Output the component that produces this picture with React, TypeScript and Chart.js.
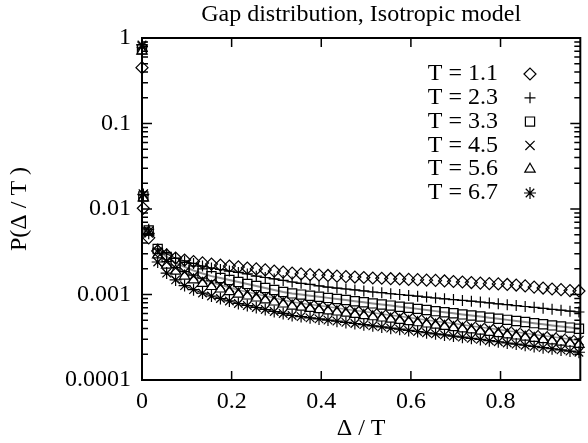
import React, { useEffect, useRef } from 'react';
import { Chart, registerables } from 'chart.js';
import { drawPoint } from 'chart.js/helpers';

Chart.register(...registerables);

const titleText = 'Gap distribution, Isotropic model';
const xTitle = 'Δ / T';
const yTitle = 'P(Δ / T )';
const seriesLabels = ['T = 1.1', 'T = 2.3', 'T = 3.3', 'T = 4.5', 'T = 5.6', 'T = 6.7'];

const xValues = [
  0, 0.003, 0.015,
  0.035, 0.055, 0.075, 0.095, 0.115, 0.135, 0.155, 0.175, 0.195, 0.215,
  0.235, 0.255, 0.275, 0.295, 0.315, 0.335, 0.355, 0.375, 0.395, 0.415,
  0.435, 0.455, 0.475, 0.495, 0.515, 0.535, 0.555, 0.575, 0.595, 0.615,
  0.635, 0.655, 0.675, 0.695, 0.715, 0.735, 0.755, 0.775, 0.795, 0.815,
  0.835, 0.855, 0.875, 0.895, 0.915, 0.935, 0.955, 0.975,
];

const t11 = [
  0.45, 0.0102, 0.0046,
  0.00323, 0.0029, 0.00267, 0.00253, 0.00243, 0.00234, 0.00227, 0.00221, 0.00215, 0.0021,
  0.00204, 0.00199, 0.00194, 0.00188, 0.00183, 0.00178, 0.00174, 0.00171, 0.00169, 0.00167,
  0.00164, 0.00162, 0.0016, 0.00158, 0.00156, 0.00155, 0.00153, 0.00152, 0.0015, 0.00149,
  0.00147, 0.00146, 0.00144, 0.00142, 0.0014, 0.00138, 0.00136, 0.00134, 0.00133, 0.00131,
  0.00129, 0.00126, 0.00122, 0.00119, 0.00116, 0.00114, 0.00111, 0.0011,
];
const t23 = [
  0.78, 0.0145, 0.0058,
  0.00341, 0.00298, 0.00267, 0.00247, 0.00231, 0.00215, 0.00204, 0.00196, 0.00188, 0.00181,
  0.00174, 0.00164, 0.00158, 0.00152, 0.00146, 0.0014, 0.00135, 0.00131, 0.00126, 0.00122,
  0.00119, 0.00116, 0.00113, 0.0011, 0.00107, 0.00105, 0.00102, 0.001, 0.000976, 0.000955,
  0.000932, 0.00091, 0.000891, 0.000872, 0.000853, 0.000835, 0.000817, 0.000798, 0.000778, 0.00076,
  0.000742, 0.000724, 0.000707, 0.00069, 0.000671, 0.000655, 0.000639, 0.000624,
];
const t33 = [
  0.74, 0.014, 0.0056,
  0.00341, 0.00275, 0.00234, 0.0021, 0.00191, 0.00176, 0.00164, 0.00156, 0.00148, 0.0014,
  0.00133, 0.00126, 0.00119, 0.00113, 0.00107, 0.00103, 0.000997, 0.000968, 0.00094, 0.000913,
  0.000886, 0.000861, 0.000835, 0.000811, 0.000787, 0.000764, 0.000742, 0.00072, 0.000699, 0.000679,
  0.000659, 0.000639, 0.000621, 0.000603, 0.000585, 0.000568, 0.000552, 0.000536, 0.00052, 0.000505,
  0.00049, 0.000476, 0.000462, 0.000448, 0.000435, 0.000422, 0.00041, 0.000398,
];
const t45 = [
  0.8, 0.015, 0.0055,
  0.00314, 0.0024, 0.00204, 0.00183, 0.00164, 0.0015, 0.00138, 0.00129, 0.00121, 0.00113,
  0.00107, 0.00101, 0.00096, 0.00091, 0.000863, 0.000817, 0.000791, 0.000766, 0.000742, 0.000718,
  0.000695, 0.000673, 0.000652, 0.000631, 0.000611, 0.000592, 0.000573, 0.000555, 0.000537, 0.00052,
  0.000503, 0.000488, 0.000472, 0.000457, 0.000443, 0.000428, 0.000415, 0.000402, 0.000389, 0.000376,
  0.000364, 0.000353, 0.000341, 0.00033, 0.00032, 0.00031, 0.0003, 0.00029,
];
const t56 = [
  0.7, 0.0135, 0.0054,
  0.0029, 0.00221, 0.00188, 0.00164, 0.00148, 0.00135, 0.00124, 0.00116, 0.00108, 0.00101,
  0.00096, 0.00091, 0.000863, 0.000817, 0.000774, 0.000733, 0.00071, 0.000688, 0.000666, 0.000645,
  0.000624, 0.000604, 0.000585, 0.000567, 0.000549, 0.000531, 0.000514, 0.000498, 0.000482, 0.000467,
  0.000452, 0.000438, 0.000424, 0.00041, 0.000397, 0.000385, 0.000372, 0.00036, 0.000349, 0.000338,
  0.000327, 0.000317, 0.000307, 0.000297, 0.000287, 0.000278, 0.000269, 0.000261,
];
const t67 = [
  0.83, 0.0148, 0.0052,
  0.0024, 0.00178, 0.00148, 0.00127, 0.00114, 0.00104, 0.00096, 0.000898, 0.00084, 0.000785,
  0.000744, 0.000705, 0.000668, 0.000633, 0.0006, 0.000568, 0.000552, 0.000533, 0.000518, 0.000502,
  0.000488, 0.000472, 0.000458, 0.000444, 0.00043, 0.000418, 0.000404, 0.000393, 0.00038, 0.000369,
  0.000357, 0.000347, 0.000337, 0.000326, 0.000317, 0.000307, 0.000298, 0.000288, 0.00028, 0.000271,
  0.000263, 0.000255, 0.000247, 0.000239, 0.000232, 0.000225, 0.000218, 0.000211,
];

const xTickValues = [0, 0.2, 0.4, 0.6, 0.8];
const xTickLabels = ['0', '0.2', '0.4', '0.6', '0.8'];
const yTickValues = [0.0001, 0.001, 0.01, 0.1, 1];
const yTickLabels = ['0.0001', '0.001', '0.01', '0.1', '1'];
const xMin = 0;
const xMax = 0.978;
const yMin = 0.0001;
const yMax = 1;

const allSeries = [t11, t23, t33, t45, t56, t67];
const markerStyles = [
  { pointStyle: 'rectRot', radius: 6 },
  { pointStyle: 'cross', radius: 5.5 },
  { pointStyle: 'rect', radius: 6.5 },
  { pointStyle: 'crossRot', radius: 6.5 },
  { pointStyle: 'triangle', radius: 6 },
  { pointStyle: 'star', radius: 6 },
];
// fitted-looking lines drawn under some series: [series index, colour, width]
const lineStyles: [number, string, number][] = [
  [1, '#000000', 1],
  [2, '#8a8a8a', 2],
  [3, '#9a9a9a', 1.5],
  [5, '#000000', 1],
];

const FONT = '"Liberation Serif", "Times New Roman", serif';

const framePlugin = {
  id: 'frame',
  afterDatasetsDraw(chart: any) {
    const { ctx, chartArea: a } = chart;
    const x = chart.scales.x;
    const y = chart.scales.y;
    ctx.save();
    ctx.strokeStyle = '#000';
    ctx.lineWidth = 1.5;
    ctx.beginPath();
    xTickValues.forEach((v) => {
      const px = x.getPixelForValue(v);
      ctx.moveTo(px, a.bottom);
      ctx.lineTo(px, a.bottom - 9);
      ctx.moveTo(px, a.top);
      ctx.lineTo(px, a.top + 9);
    });
    for (let e = -4; e <= 0; e++) {
      for (let m = 1; m <= 9; m++) {
        const v = m * Math.pow(10, e);
        if (v > yMax * 1.0001) break;
        const py = y.getPixelForValue(v);
        const len = m === 1 ? 10 : 6;
        ctx.moveTo(a.left, py);
        ctx.lineTo(a.left + len, py);
        ctx.moveTo(a.right, py);
        ctx.lineTo(a.right - len, py);
      }
    }
    ctx.stroke();
    ctx.lineWidth = 2;
    ctx.strokeRect(a.left, a.top, a.right - a.left, a.bottom - a.top);

    // legend (text, then marker)
    ctx.font = '24px ' + FONT;
    ctx.textAlign = 'right';
    ctx.textBaseline = 'middle';
    seriesLabels.forEach((lab, i) => {
      const ly = 74 + 23.8 * i;
      ctx.fillStyle = '#000';
      ctx.fillText(lab, 498, ly);
      ctx.strokeStyle = '#000';
      ctx.fillStyle = 'rgba(0,0,0,0)';
      ctx.lineWidth = 1.2;
      drawPoint(ctx, { pointStyle: markerStyles[i].pointStyle as any, radius: markerStyles[i].radius, borderWidth: 1.2, rotation: 0 } as any, 530, ly);
    });
    ctx.restore();
  },
};

export default function App() {
  const ref = useRef<HTMLCanvasElement | null>(null);
  useEffect(() => {
    if (!ref.current) return;
    const datasets: any[] = allSeries.map((s, i) => ({
      label: seriesLabels[i],
      data: xValues.map((xv, j) => ({ x: xv, y: s[j] })),
      showLine: false,
      pointStyle: markerStyles[i].pointStyle,
      pointRadius: markerStyles[i].radius,
      pointHoverRadius: markerStyles[i].radius,
      pointBorderColor: '#000',
      pointBackgroundColor: 'rgba(0,0,0,0)',
      pointBorderWidth: 1.2,
      borderColor: '#000',
      backgroundColor: 'rgba(0,0,0,0)',
      clip: false,
    }));
    lineStyles.forEach(([si, col, w]) => {
      const s = allSeries[si];
      datasets.push({
        label: 'line' + si,
        data: xValues.slice(3).map((xv, j) => ({ x: xv, y: s[j + 3] })),
        showLine: true,
        pointRadius: 0,
        borderColor: col,
        borderWidth: w,
        backgroundColor: 'rgba(0,0,0,0)',
        fill: false,
        tension: 0,
      });
    });
    const chart = new Chart(ref.current, {
      type: 'scatter',
      data: { datasets },
      options: {
        animation: false,
        responsive: false,
        devicePixelRatio: 1,
        events: [],
        layout: { padding: { left: 0, right: 1, top: 0, bottom: 0 } },
        plugins: {
          legend: { display: false },
          tooltip: { enabled: false },
          title: {
            display: true,
            text: titleText,
            fullSize: false,
            color: '#000',
            font: { family: FONT, size: 24, weight: 'normal', lineHeight: 1.2 },
            padding: { top: 0, bottom: 9.2 },
          },
        },
        scales: {
          x: {
            type: 'linear',
            min: xMin,
            max: xMax,
            afterFit: (s: any) => { s.height = 63; },
            afterBuildTicks: (s: any) => { s.ticks = xTickValues.map((v) => ({ value: v })); },
            grid: { display: false, drawTicks: false },
            border: { display: false },
            ticks: {
              autoSkip: false,
              maxRotation: 0,
              padding: 7,
              color: '#000',
              font: { family: FONT, size: 24 },
              callback: (v: any) => xTickLabels[xTickValues.indexOf(v)] ?? '',
            },
            title: {
              display: true,
              text: xTitle,
              color: '#000',
              font: { family: FONT, size: 24, lineHeight: 1 },
              padding: { top: 0, bottom: 2 },
            },
          },
          y: {
            type: 'logarithmic',
            min: yMin,
            max: yMax,
            afterFit: (s: any) => { s.width = 142; },
            afterBuildTicks: (s: any) => { s.ticks = yTickValues.map((v) => ({ value: v })); },
            grid: { display: false, drawTicks: false },
            border: { display: false },
            ticks: {
              autoSkip: false,
              padding: 11,
              color: '#000',
              font: { family: FONT, size: 24 },
              callback: (v: any) => yTickLabels[yTickValues.indexOf(v)] ?? '',
            },
            title: {
              display: true,
              text: yTitle,
              color: '#000',
              font: { family: FONT, size: 24, lineHeight: 1 },
              padding: { top: 8, bottom: 0 },
            },
          },
        },
      } as any,
      plugins: [framePlugin],
    });
    return () => chart.destroy();
  }, []);
  return (
    <div style={{ position: 'fixed', left: 0, top: 0, width: 588, height: 443, background: '#fff' }}>
      <canvas ref={ref} width={588} height={443} style={{ display: 'block', width: 588, height: 443 }} />
    </div>
  );
}
